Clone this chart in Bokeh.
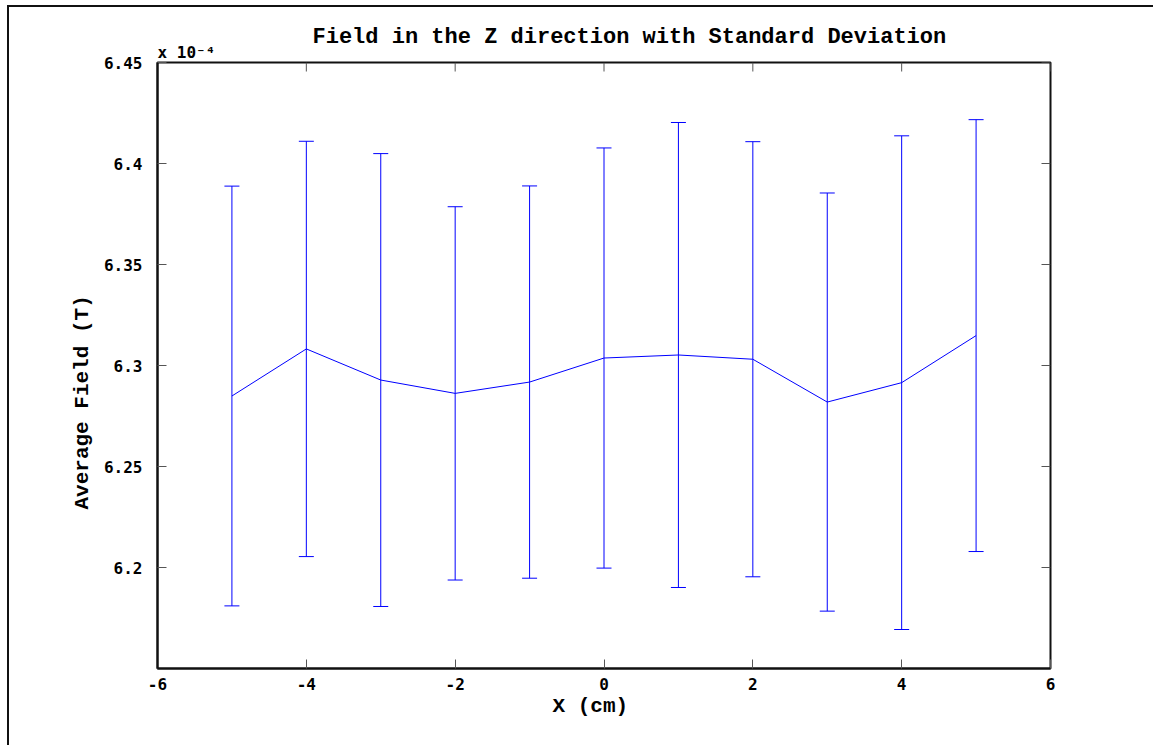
import math
from bokeh.plotting import figure
from bokeh.models import (ColumnDataSource, Whisker, TeeHead, FixedTicker,
                          CustomJSTickFormatter, Title)
from bokeh.embed import file_html
from bokeh.resources import INLINE

# ---- data (field values in units of 1e-4 T) ----
x_cm = [-5, -4, -3, -2, -1, 0, 1, 2, 3, 4, 5]
mean_field = [6.2849, 6.3082, 6.2928, 6.2862, 6.2918, 6.3037, 6.3052, 6.3031, 6.2819, 6.2915, 6.3148]
std_field = [0.1039, 0.1028, 0.1121, 0.0924, 0.0971, 0.1040, 0.1151, 0.1077, 0.1035, 0.1222, 0.1069]
x_ticks = [-6, -4, -2, 0, 2, 4, 6]
y_ticks = [6.2, 6.25, 6.3, 6.35, 6.4, 6.45]
x_lim = (-6, 6)
y_lim = (6.15, 6.45)

title_text = "Field in the Z direction with Standard Deviation"
xlabel_text = "X (cm)"
ylabel_text = "Average Field (T)"
scale_text = "x 10\u207b\u2074"

upper = [m + s for m, s in zip(mean_field, std_field)]
lower = [m - s for m, s in zip(mean_field, std_field)]
src = ColumnDataSource(dict(x=x_cm, mean=mean_field, upper=upper, lower=lower))

BLUE = "#0000ff"
TICK_FONT = "DejaVu Sans Mono"
LABEL_FONT = "Liberation Mono"

p = figure(width=1146, height=740, x_range=x_lim, y_range=y_lim,
           output_backend="svg", toolbar_location=None,
           min_border_left=148, min_border_right=105, min_border_top=55, min_border_bottom=79,
           background_fill_color="white", border_fill_color="white")
p.margin = (5, 0, 0, 7)
p.styles = {"border-left": "2px solid #111", "border-top": "2px solid #111"}
p.grid.visible = False
p.outline_line_color = "#111"
p.outline_line_width = 2

p.line("x", "mean", source=src, line_color=BLUE, line_width=1)
p.add_layout(Whisker(base="x", upper="upper", lower="lower", source=src,
                     line_color=BLUE, line_width=1,
                     upper_head=TeeHead(size=15, line_color=BLUE, line_width=1),
                     lower_head=TeeHead(size=15, line_color=BLUE, line_width=1)))

fmt = CustomJSTickFormatter(code="return String(Math.round(tick*100)/100);")

for ax in (p.xaxis[0], p.yaxis[0]):
    ax.axis_line_color = "#111"
    ax.axis_line_width = 2
    ax.major_tick_in = 9
    ax.major_tick_out = 0
    ax.minor_tick_line_color = None
    ax.major_tick_line_color = "#555"
    ax.major_label_text_font = TICK_FONT
    ax.major_label_text_font_style = "bold"
    ax.major_label_text_font_size = "16px"
    ax.major_label_text_color = "black"
    ax.formatter = fmt
p.xaxis.ticker = FixedTicker(ticks=x_ticks)
p.yaxis.ticker = FixedTicker(ticks=y_ticks)
p.xaxis.major_label_standoff = 9
p.yaxis.major_label_standoff = 15

# mirrored inward ticks on the top and right edges of the box
top_src = ColumnDataSource(dict(x=x_ticks, y=[y_lim[1]] * len(x_ticks)))
right_src = ColumnDataSource(dict(x=[x_lim[1]] * len(y_ticks), y=y_ticks))
p.ray(x="x", y="y", source=top_src, length=9, length_units="screen",
      angle=-math.pi / 2, line_color="#555", line_width=1)
p.ray(x="x", y="y", source=right_src, length=9, length_units="screen",
      angle=math.pi, line_color="#555", line_width=1)

# texts (titles in side panels)
p.add_layout(Title(text=scale_text, align="left", offset=0, standoff=2,
                   text_font=TICK_FONT, text_font_size="16px", text_font_style="bold",
                   text_color="black"), "above")
p.title.text = title_text
p.title.align = "left"
p.title.offset = 155
p.title.text_font = LABEL_FONT
p.title.text_font_size = "22px"
p.title.text_font_style = "bold"
p.title.text_color = "black"
p.title.standoff = -20

p.add_layout(Title(text=xlabel_text, align="left", offset=395, standoff=0,
                   text_font=LABEL_FONT, text_font_size="21px", text_font_style="bold",
                   text_color="black"), "below")
p.add_layout(Title(text=ylabel_text, align="left", offset=159, standoff=13,
                   text_font=LABEL_FONT, text_font_size="21px", text_font_style="bold",
                   text_color="black"), "left")

open("out.html", "w").write(file_html(p, INLINE))
